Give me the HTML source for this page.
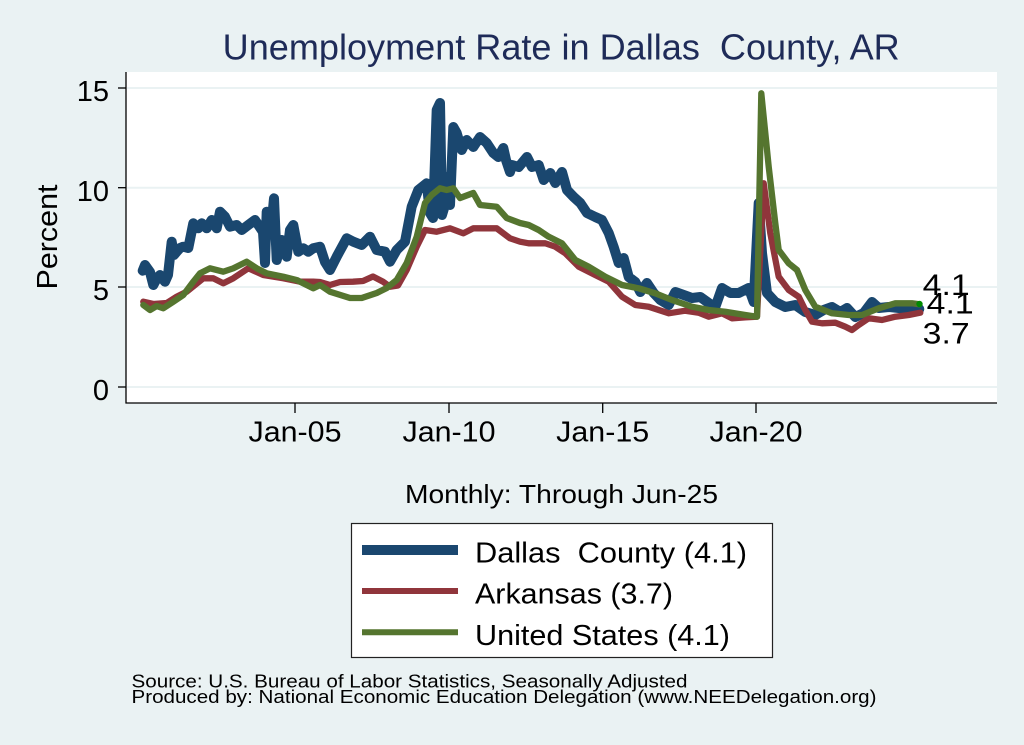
<!DOCTYPE html>
<html><head><meta charset="utf-8"><style>
html,body{margin:0;padding:0;background:#eaf2f3;}
svg{display:block;}
text{font-family:"Liberation Sans",Arial,sans-serif;}
</style></head><body>
<svg width="1024" height="745" viewBox="0 0 1024 745" xmlns="http://www.w3.org/2000/svg">
<rect x="0" y="0" width="1024" height="745" fill="#eaf2f3"/>
<text x="222.7" y="59.5" font-size="36" fill="#1e2b58" textLength="677" lengthAdjust="spacingAndGlyphs">Unemployment Rate in Dallas&#160; County, AR</text>
<rect x="126" y="72" width="871" height="331" fill="#ffffff"/>
<g stroke="#eaf2f3" stroke-width="2">
<line x1="127" y1="88" x2="997" y2="88"/>
<line x1="127" y1="187.7" x2="997" y2="187.7"/>
<line x1="127" y1="287" x2="997" y2="287"/>
<line x1="127" y1="387" x2="997" y2="387"/>
</g>
<g stroke="#000" stroke-width="1.3" fill="none">
<line x1="126" y1="72" x2="126" y2="403.5"/>
<line x1="125.5" y1="403" x2="997" y2="403"/>
<line x1="118" y1="88" x2="126" y2="88"/>
<line x1="118" y1="187.7" x2="126" y2="187.7"/>
<line x1="118" y1="287" x2="126" y2="287"/>
<line x1="118" y1="387" x2="126" y2="387"/>
<line x1="295" y1="403" x2="295" y2="413"/>
<line x1="449" y1="403" x2="449" y2="413"/>
<line x1="602.7" y1="403" x2="602.7" y2="413"/>
<line x1="756" y1="403" x2="756" y2="413"/>
</g>
<g font-size="29" fill="#000" text-anchor="end">
<text x="109" y="101">15</text>
<text x="109" y="201">10</text>
<text x="109" y="300">5</text>
<text x="109" y="400">0</text>
</g>
<text transform="translate(57,237) rotate(-90)" font-size="29" text-anchor="middle" textLength="105" lengthAdjust="spacingAndGlyphs">Percent</text>
<g font-size="29" fill="#000" text-anchor="middle">
<text x="295" y="441.7" textLength="93" lengthAdjust="spacingAndGlyphs">Jan-05</text>
<text x="449" y="441.7" textLength="93" lengthAdjust="spacingAndGlyphs">Jan-10</text>
<text x="602.7" y="441.7" textLength="93" lengthAdjust="spacingAndGlyphs">Jan-15</text>
<text x="756" y="441.7" textLength="93" lengthAdjust="spacingAndGlyphs">Jan-20</text>
</g>
<g fill="none" stroke-linejoin="round" stroke-linecap="round">
<polyline stroke="#1a476f" stroke-width="10" points="142.7,270.7 145,265 150,272 153.3,285 157,278 160,275 165,281.7 168,275 171.7,241.7 174,255 176.7,251.7 180,248 183.3,246.7 188.3,248 193.3,223.3 198.3,228.3 201.7,223.3 206.7,228.3 211.7,220 216.7,228.3 220,211.7 225,216.7 230,226.7 236.7,225 241.7,230 248.3,225 255,220 261.7,230 263,232 265,263 266.7,211.7 271.7,223.3 274,198.3 276.7,260 281.7,240 286.7,256.7 290,230 293.3,225 298.3,251.7 303.3,248.3 308.3,251.7 313.3,248.3 320,246.7 325,262 330,270 336.7,256.7 346.7,238.3 353.3,241.7 361.7,245 370,236.7 376.7,250 385,251.7 390,261.7 396.7,250 405,241.7 411.7,206.7 418.3,190 426.7,183.3 430,213 433,218 436.7,110 440,103 442,215 445,205 448,177 450,205 453.3,127 456.7,133 461.7,150 466.7,140 473.3,147 480,137 486.7,143 493.3,153 498.3,157 503.3,148 506,160 510,172 512,165 518.7,167 527,157 532,167 538.7,165 543.7,180 550.3,173 555.3,183 562,172 567,190 573.7,197 580.3,203 587,213 595.3,217 602,220 608.7,233 613.7,247 618.7,263 623.7,258 628.7,277 635.3,282 640.3,292 647,283 653.7,293 660.3,300 668.7,305 675.3,292 683.7,295 692,298 700.3,297 708.7,303 715.3,307 722,288 730.3,293 738.7,293 748.7,288 753.7,302 758.7,203 762,253 767,293 775.3,302 785.3,307 795.3,305 805.3,312 815.3,315 823.7,310 832,307 840.3,312 847,308 855.3,317 863.7,313 872,302 878.7,308 888.7,307 898.7,308 908.7,309 919.3,309"/>
<polyline stroke="#90353b" stroke-width="6.3" points="143.3,301.7 153.3,304 166.7,303 176.7,296.7 186.7,291.7 203.3,278.3 213.3,278.3 223.3,283.3 233.3,278.3 248.3,268.3 263.3,275 283.3,278.3 300,281.7 313.3,281.7 320,282 330,285 340,282 353,281.7 363,281 373,276.5 383,281.7 390,286.7 398,285.5 406.7,270 416.7,246.7 425,230 436.7,231.7 450,228.3 463.3,233.3 473.3,228.3 496.7,228.3 510,238.3 520,241.7 528.7,243.3 545.3,243.3 555.3,246.7 565.3,253.3 578.7,266.7 595.3,275 608.7,281.7 622,296.7 635.3,305 648.7,306.7 668.7,313.3 685.3,310.7 698.7,312.7 708.7,316.7 722,313.3 732,318.3 745.3,317.3 757,316.7 763.7,183.3 770.3,233.3 778.7,276.7 788.7,290 798.7,296.7 805.3,310 812,321.7 822,323.3 835.3,322.7 845.3,326.7 852,330 858.7,325 868.7,318.3 882,320 895.3,316.7 908.7,315 920.3,312.7"/>
<polyline stroke="#55752f" stroke-width="6.3" points="143.3,305 150,310 156.7,306 163.3,308.3 173.3,301.7 183.3,295 193.3,281.7 200,273.3 210,268.3 223.3,271.7 233.3,268.3 246.7,261.7 256.7,268.3 266.7,273.3 283.3,276.7 296.7,280 313.3,288.3 320,285 330,291.7 350,298 361.7,298 376.7,293 386.7,288 396.7,280 406.7,263 416.7,236.7 425,203 431.7,195 440,188.3 446.7,190 453.3,188.3 460,198 473.3,193 480,205 496.7,206.7 506.7,218 520,223 528.7,225 538.7,230 548.7,236.7 562,243.3 575.3,260 588.7,266.7 605.3,276.7 622,285 638.7,288.3 655.3,293.3 672,300 692,306.7 708.7,310 725.3,311.7 745.3,315 757,316.7 761.3,93.3 768.7,166.7 775.3,223.3 778.7,250 788.7,263.3 797,270 805.3,290 815.3,306.7 832,313.3 848.7,315 862,315 878.7,308.3 895.3,303.3 912,303.3 919.3,304.3"/>
</g>
<circle cx="919.5" cy="304" r="3.2" fill="#008a00"/>
<g font-size="30" fill="#000">
<text x="922.7" y="295" textLength="47" lengthAdjust="spacingAndGlyphs">4.1</text>
<text x="926.7" y="313.3" textLength="47" lengthAdjust="spacingAndGlyphs">4.1</text>
<text x="922.7" y="343.3" textLength="47" lengthAdjust="spacingAndGlyphs">3.7</text>
</g>
<text x="405" y="503" font-size="26" fill="#000" textLength="313" lengthAdjust="spacingAndGlyphs">Monthly: Through Jun-25</text>
<rect x="351.5" y="523.5" width="421" height="134" fill="#ffffff" stroke="#222" stroke-width="1.2"/>
<line x1="362" y1="550" x2="458" y2="550" stroke="#1a476f" stroke-width="10"/>
<line x1="362" y1="591" x2="458" y2="591" stroke="#90353b" stroke-width="6"/>
<line x1="362" y1="632.3" x2="458" y2="632.3" stroke="#55752f" stroke-width="6"/>
<g font-size="29" fill="#000">
<text x="475" y="562.7" textLength="272" lengthAdjust="spacingAndGlyphs">Dallas&#160; County (4.1)</text>
<text x="475" y="603.3" textLength="198" lengthAdjust="spacingAndGlyphs">Arkansas (3.7)</text>
<text x="475" y="645" textLength="255" lengthAdjust="spacingAndGlyphs">United States (4.1)</text>
</g>
<g font-size="18.5" fill="#000">
<text x="131.5" y="687.5" textLength="556" lengthAdjust="spacingAndGlyphs">Source: U.S. Bureau of Labor Statistics, Seasonally Adjusted</text>
<text x="131.5" y="703" textLength="745" lengthAdjust="spacingAndGlyphs">Produced by: National Economic Education Delegation (www.NEEDelegation.org)</text>
</g>
</svg>
</body></html>
